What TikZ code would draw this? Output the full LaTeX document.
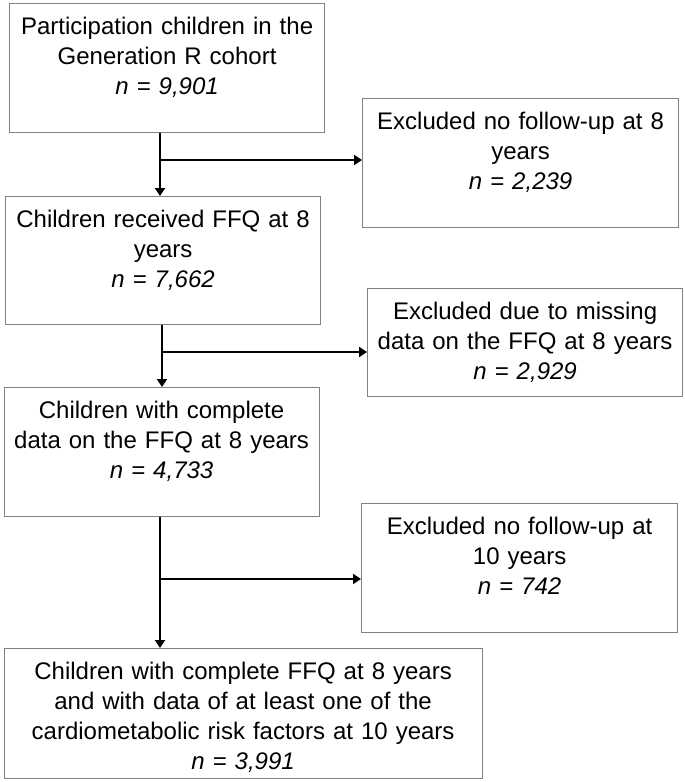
\documentclass[tikz,border=0pt]{standalone}
\usepackage{fontspec}
\setmainfont{Liberation Sans}
\usetikzlibrary{arrows.meta}
\definecolor{boxgray}{RGB}{128,128,128}
\tikzset{
	flowbox/.style={draw=boxgray, line width=1.2pt, anchor=north west, inner sep=0pt,
		align=center, font=\fontsize{24}{30}\selectfont, text height=31pt},
	flowarrow/.style={line width=2pt, -{Triangle[length=8pt,width=10pt]}}
}
\begin{document}
\begin{tikzpicture}[x=1pt,y=-1pt]
	\useasboundingbox (0,0) rectangle (685,782);
	
	\node[flowbox, text width=315pt, text depth=98pt] (cohort) at (9,3)
		{Participation children in the\\Generation R cohort\\\textit{n = 9,901}};
	\node[flowbox, text width=316pt, text depth=98pt] (nofollow8) at (362,98)
		{Excluded no follow-up at 8\\years\\\textit{n = 2,239}};
	\node[flowbox, text width=315pt, text depth=97pt] (ffq) at (5,196)
		{Children received FFQ at 8\\years\\\textit{n = 7,662}};
	\node[flowbox, text width=315pt, text depth=77pt] (missing) at (367,288)
		{Excluded due to missing\\data on the FFQ at 8 years\\\textit{n = 2,929}};
	\node[flowbox, text width=315pt, text depth=98pt] (complete) at (3.5,387)
		{Children with complete\\data on the FFQ at 8 years\\\textit{n = 4,733}};
	\node[flowbox, text width=316pt, text depth=98pt] (nofollow10) at (361,503)
		{Excluded no follow-up at\\10 years\\\textit{n = 742}};
	\node[flowbox, text width=478pt, text depth=99pt] (final) at (3.5,648)
		{Children with complete FFQ at 8 years\\and with data of at least one of the\\cardiometabolic risk factors at 10 years\\\textit{n = 3,991}};
	
	\coordinate (split1) at (160,160);
	\coordinate (split2) at (162,352);
	\coordinate (split3) at (160,579);
	
	\draw[flowarrow] (cohort.south -| split1) -- (ffq.north -| split1);
	\draw[flowarrow] (split1) -- (split1 -| nofollow8.west);
	
	\draw[flowarrow] (ffq.south -| split2) -- (complete.north -| split2);
	\draw[flowarrow] (split2) -- (split2 -| missing.west);
	
	\draw[flowarrow] (complete.south -| split3) -- (final.north -| split3);
	\draw[flowarrow] (split3) -- (split3 -| nofollow10.west);
\end{tikzpicture}
\end{document}
